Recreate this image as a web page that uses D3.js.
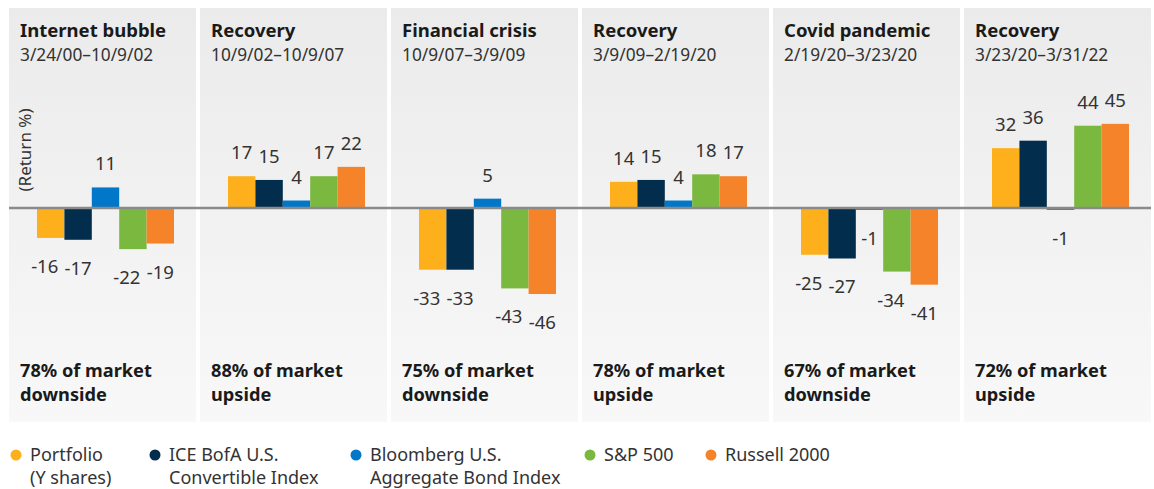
<!DOCTYPE html>
<html>
<head>
<meta charset="utf-8">
<script src="https://cdn.jsdelivr.net/npm/d3@7"></script>
<style>
  body { margin: 0; background: #fff; }
  svg text { font-family: "Noto Sans", "Open Sans", sans-serif; }
</style>
</head>
<body>
<div id="chart"></div>
<script>
// periods / headers
const periods = ["Internet bubble", "Recovery", "Financial crisis", "Recovery", "Covid pandemic", "Recovery"];
const dateRanges = ["3/24/00\u201310/9/02", "10/9/02\u201310/9/07", "10/9/07\u20133/9/09", "3/9/09\u20132/19/20", "2/19/20\u20133/23/20", "3/23/20\u20133/31/22"];
const captureTop = ["78% of market", "88% of market", "75% of market", "78% of market", "67% of market", "72% of market"];
const captureBottom = ["downside", "upside", "downside", "upside", "downside", "upside"];

// series values (return %)
const portfolio = [-16, 17, -33, 14, -25, 32];
const iceConvertible = [-17, 15, -33, 15, -27, 36];
const bloombergAgg = [11, 4, 5, 4, -1, -1];
const sp500 = [-22, 17, -43, 18, -34, 44];
const russell2000 = [-19, 22, -46, 17, -41, 45];

const seriesKeys = ["portfolio", "ice", "bbg", "sp", "russell"];
const seriesLabels = [
  ["Portfolio", "(Y shares)"],
  ["ICE BofA U.S.", "Convertible Index"],
  ["Bloomberg U.S.", "Aggregate Bond Index"],
  ["S&P 500"],
  ["Russell 2000"]
];
const colors = ["#FDB01B", "#022D4D", "#0077C8", "#7AB83F", "#F4832A"];

const seriesValues = [portfolio, iceConvertible, bloombergAgg, sp500, russell2000];

const data = periods.map((p, i) => ({
  period: p,
  dates: dateRanges[i],
  top: captureTop[i],
  bottom: captureBottom[i],
  values: seriesKeys.map((k, j) => ({ key: k, value: seriesValues[j][i] }))
}));

//////////////////////////////////////////////////////
// CHART
//////////////////////////////////////////////////////

const width = 1154;
const height = 489;

const svg = d3.select("#chart")
  .append("svg")
  .attr("width", width)
  .attr("height", height);

const defs = svg.append("defs");
const grad = defs.append("linearGradient")
  .attr("id", "panelGrad")
  .attr("x1", 0).attr("y1", 0).attr("x2", 0).attr("y2", 1);
grad.append("stop").attr("offset", "0%").attr("stop-color", "#ebebeb");
grad.append("stop").attr("offset", "100%").attr("stop-color", "#f8f8f8");

const px = d3.scaleBand()
  .domain(d3.range(periods.length))
  .range([9, 1151])
  .paddingInner(0.021);

const y = d3.scaleLinear()
  .domain([-50, 50])
  .range([301.5, 114.5]);

const color = d3.scaleOrdinal().domain(seriesKeys).range(colors);

// panels
const panel = svg.selectAll(".panel")
  .data(data)
  .enter()
  .append("g")
  .attr("class", "panel")
  .attr("transform", (d, i) => `translate(${px(i)},0)`);

panel.append("rect")
  .attr("y", 8)
  .attr("width", px.bandwidth())
  .attr("height", 414)
  .attr("fill", "url(#panelGrad)");

panel.append("text")
  .attr("x", 11)
  .attr("y", 37)
  .style("font-size", "18.5px")
  .style("font-weight", "bold")
  .style("fill", "#1a1a1a")
  .text(d => d.period);

panel.append("text")
  .attr("x", 11)
  .attr("y", 61)
  .style("font-size", "17.3px")
  .style("fill", "#333")
  .text(d => d.dates);

panel.append("text")
  .attr("x", 11)
  .attr("y", 377)
  .style("font-size", "18.2px")
  .style("font-weight", "bold")
  .style("fill", "#1a1a1a")
  .text(d => d.top);

panel.append("text")
  .attr("x", 11)
  .attr("y", 401)
  .style("font-size", "18.2px")
  .style("font-weight", "bold")
  .style("fill", "#1a1a1a")
  .text(d => d.bottom);

// bars
const bx = d3.scaleBand()
  .domain(seriesKeys)
  .range([28, 165])
  .padding(0);

panel.selectAll(".bar")
  .data(d => d.values)
  .enter()
  .append("rect")
  .attr("class", "bar")
  .attr("x", d => bx(d.key))
  .attr("width", bx.bandwidth())
  .attr("y", d => y(Math.max(0, d.value)))
  .attr("height", d => Math.abs(y(d.value) - y(0)))
  .attr("fill", d => color(d.key));

// labels: nudge a negative label left when its right neighbour sits at nearly the same height
function labelShift(d, i, vals) {
  const next = vals[i + 1];
  if (d.value < 0 && next && next.value < 0 && Math.abs(y(d.value) - y(next.value)) < 14) return -6;
  return 0;
}

panel.selectAll(".bar-label")
  .data(d => d.values.map((v, i, arr) => ({ ...v, shift: labelShift(v, i, arr) })))
  .enter()
  .append("text")
  .attr("class", "bar-label")
  .attr("x", d => bx(d.key) + bx.bandwidth() / 2 + d.shift)
  .attr("y", d => d.value >= 0 ? y(d.value) - 17 : y(d.value) + 35)
  .attr("text-anchor", "middle")
  .style("font-size", "18.5px")
  .style("fill", "#333")
  .text(d => d.value);

// zero line
svg.append("line")
  .attr("x1", 9)
  .attr("x2", 1151)
  .attr("y1", y(0))
  .attr("y2", y(0))
  .attr("stroke", "#8a8a8a")
  .attr("stroke-width", 2.5);

// y label
svg.append("text")
  .attr("transform", "translate(31,150) rotate(-90)")
  .attr("text-anchor", "middle")
  .style("font-size", "17px")
  .style("fill", "#333")
  .text("(Return %)");

//////////////////////////////////////////////////////
// LEGEND
//////////////////////////////////////////////////////

const legendX = [16, 155, 356, 590, 711];

const legend = svg.selectAll(".legend")
  .data(seriesKeys)
  .enter()
  .append("g")
  .attr("class", "legend")
  .attr("transform", (d, i) => `translate(${legendX[i]},0)`);

legend.append("circle")
  .attr("cx", 0)
  .attr("cy", 455)
  .attr("r", 5.5)
  .attr("fill", d => color(d));

legend.each(function(d, i) {
  const g = d3.select(this);
  seriesLabels[i].forEach((line, k) => {
    g.append("text")
      .attr("x", 14)
      .attr("y", 461 + k * 23)
      .style("font-size", "18px")
      .style("fill", "#333")
      .text(line);
  });
});
</script>
</body>
</html>
